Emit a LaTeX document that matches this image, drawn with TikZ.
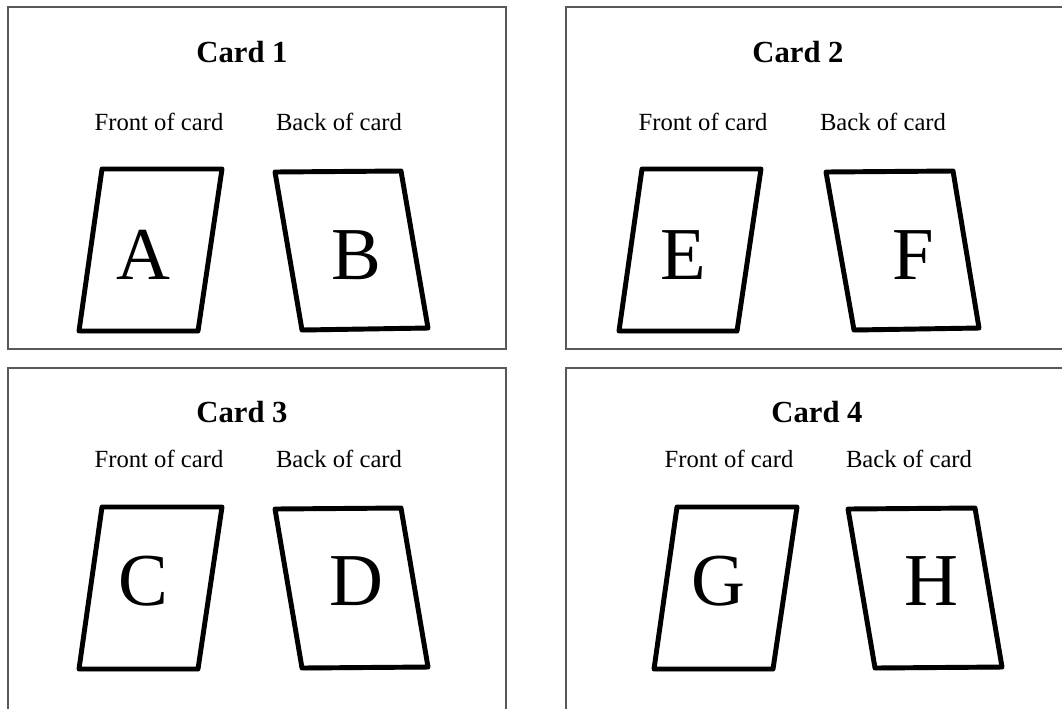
\documentclass[tikz,border=0pt]{standalone}
\usepackage{fontspec}
\setmainfont{Liberation Serif}
\usetikzlibrary{shadows}
\begin{document}
\begin{tikzpicture}[x=0.75pt,y=-0.75pt,
  panel/.style={draw=black!65, line width=0.9pt},
  cardshape/.style={draw=black, line width=3.7pt, line join=round, fill=white,
    drop shadow={shadow xshift=0.6pt, shadow yshift=-1.8pt, opacity=0.25, fill=black}},
  title/.style={font=\bfseries\fontsize{23}{26}\selectfont, inner sep=0pt},
  side/.style={font=\fontsize{18.5}{22}\selectfont, inner sep=0pt},
  letter/.style={font=\fontsize{56}{60}\selectfont, inner sep=0pt}]
\useasboundingbox (0,0) rectangle (1062,708);
\clip (0,0) rectangle (1062,708);
\fill[white] (0,0) rectangle (1062,708);
% panels
\draw[panel] (8,7) rectangle (506,349);
\draw[panel] (566,7) rectangle (1080,349);
\draw[panel] (8,368) rectangle (506,730);
\draw[panel] (566,368) rectangle (1080,730);
% Card 1
\node[title] (t1) at (242,52) {Card 1};
\node[side] (f1) at (159,122) {Front of card};
\node[side] (b1) at (339,122) {Back of card};
\path[cardshape] (102,169) -- (222,169) -- (198,331) -- (79,331) -- cycle;
\path[cardshape] (275,172) -- (401,171) -- (428,328) -- (302,330) -- cycle;
\node[letter] (A) at (143,255) {A};
\node[letter] (B) at (356,255) {B};
% Card 2
\node[title] (t2) at (798,52) {Card 2};
\node[side] (f2) at (703,122) {Front of card};
\node[side] (b2) at (883,122) {Back of card};
\path[cardshape] (642,169) -- (761,169) -- (737,331) -- (619,331) -- cycle;
\path[cardshape] (826,172) -- (953,171) -- (979,328) -- (854,330) -- cycle;
\node[letter] (E) at (683,255) {E};
\node[letter] (F) at (913,255) {F};
% Card 3
\node[title] (t3) at (242,412) {Card 3};
\node[side] (f3) at (159,459) {Front of card};
\node[side] (b3) at (339,459) {Back of card};
\path[cardshape] (102,507) -- (222,507) -- (198,669) -- (79,669) -- cycle;
\path[cardshape] (275,509) -- (401,508) -- (428,667) -- (302,668) -- cycle;
\node[letter] (C) at (143,581) {C};
\node[letter] (D) at (356,581) {D};
% Card 4
\node[title] (t4) at (817,412) {Card 4};
\node[side] (f4) at (729,459) {Front of card};
\node[side] (b4) at (909,459) {Back of card};
\path[cardshape] (677,507) -- (797,507) -- (773,669) -- (654,669) -- cycle;
\path[cardshape] (848,509) -- (975,508) -- (1002,667) -- (875,668) -- cycle;
\node[letter] (G) at (718,581) {G};
\node[letter] (H) at (931,581) {H};
\end{tikzpicture}
\end{document}
